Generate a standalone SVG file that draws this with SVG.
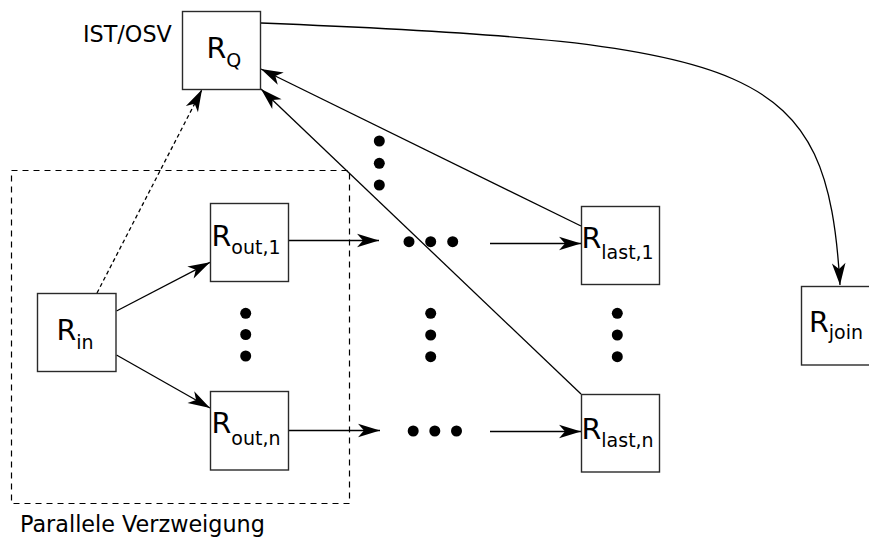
<svg xmlns="http://www.w3.org/2000/svg" width="869" height="540" viewBox="0 0 869 540">
<defs>
<style>
.box{fill:#fff;stroke:#2a2a2a;stroke-width:1.4}
.ln{fill:none;stroke:#000;stroke-width:1.3}
.dash{stroke-dasharray:4,3}
.frame{fill:none;stroke:#000;stroke-width:1.2;stroke-dasharray:6,5}
.t{font-family:"DejaVu Sans","Liberation Sans",sans-serif;fill:#000}
.big{font-size:28.5px}
.sub{font-size:19px}
.lbl{font-size:22.3px}
.dot{fill:#000}
</style>
<marker id="arr" viewBox="-24 -8 26 16" markerWidth="26" markerHeight="16" refX="0" refY="0" orient="auto" markerUnits="userSpaceOnUse">
<path d="M0,0 L-22,-6.8 L-16,0 L-22,6.8 Z" fill="#000"/>
</marker>
</defs>
<rect class="frame" x="11.5" y="170.5" width="338" height="333"/>
<g id="connectors">
<line class="ln" x1="116.5" y1="311" x2="210" y2="262.3" marker-end="url(#arr)"/>
<line class="ln" x1="116.5" y1="355" x2="210" y2="408" marker-end="url(#arr)"/>
<line class="ln dash" x1="97" y1="293" x2="202" y2="89.5" marker-end="url(#arr)"/>
<line class="ln" x1="289" y1="240.5" x2="379" y2="240.5" marker-end="url(#arr)"/>
<line class="ln" x1="490" y1="243.5" x2="581" y2="243.5" marker-end="url(#arr)"/>
<line class="ln" x1="289" y1="430.5" x2="380" y2="430.5" marker-end="url(#arr)"/>
<line class="ln" x1="490" y1="431.5" x2="581" y2="431.5" marker-end="url(#arr)"/>
<line class="ln" x1="581" y1="226" x2="261" y2="69" marker-end="url(#arr)"/>
<line class="ln" x1="581" y1="394" x2="261" y2="89" marker-end="url(#arr)"/>
<path class="ln" d="M261,23 C761,43 827,65 840,285" marker-end="url(#arr)"/>
</g>
<g id="dots">
<circle class="dot" cx="379.3" cy="141" r="5.5"/>
<circle class="dot" cx="379.3" cy="163.3" r="5.5"/>
<circle class="dot" cx="379.3" cy="185" r="5.5"/>
<circle class="dot" cx="409" cy="241.7" r="5.5"/>
<circle class="dot" cx="430.7" cy="241.7" r="5.5"/>
<circle class="dot" cx="452.7" cy="241.7" r="5.5"/>
<circle class="dot" cx="245.7" cy="313.3" r="5.5"/>
<circle class="dot" cx="245.7" cy="334.5" r="5.5"/>
<circle class="dot" cx="245.7" cy="356" r="5.5"/>
<circle class="dot" cx="430.7" cy="313.3" r="5.5"/>
<circle class="dot" cx="430.7" cy="335" r="5.5"/>
<circle class="dot" cx="430.7" cy="356.7" r="5.5"/>
<circle class="dot" cx="617.3" cy="313.3" r="5.5"/>
<circle class="dot" cx="617.3" cy="335" r="5.5"/>
<circle class="dot" cx="617.3" cy="356.7" r="5.5"/>
<circle class="dot" cx="413.2" cy="431" r="5.5"/>
<circle class="dot" cx="434.8" cy="431" r="5.5"/>
<circle class="dot" cx="456.5" cy="431" r="5.5"/>
</g>
<g id="RQ">
<rect class="box" x="182.5" y="11.5" width="78" height="78"/>
<text class="t big" x="206.5" y="57.7">R<tspan class="sub" dy="9.3">Q</tspan></text>
</g>
<text class="t lbl" x="83" y="42">IST/OSV</text>
<g id="Rin">
<rect class="box" x="37.5" y="293.5" width="78.5" height="78"/>
<text class="t big" x="56.5" y="340">R<tspan class="sub" dy="9">in</tspan></text>
</g>
<g id="Rout1">
<rect class="box" x="210.5" y="203.5" width="78" height="78"/>
<text class="t big" x="211.5" y="246">R<tspan class="sub" dy="8.3">out,1</tspan></text>
</g>
<g id="Routn">
<rect class="box" x="210.5" y="391.5" width="78" height="78.5"/>
<text class="t big" x="211.5" y="433">R<tspan class="sub" dy="12">out,n</tspan></text>
</g>
<g id="Rlast1">
<rect class="box" x="581.5" y="206.5" width="78" height="78"/>
<text class="t big" x="581.5" y="248">R<tspan class="sub" dy="11">last,1</tspan></text>
</g>
<g id="Rlastn">
<rect class="box" x="581.5" y="394.5" width="78" height="77.5"/>
<text class="t big" x="581.5" y="439">R<tspan class="sub" dy="8">last,n</tspan></text>
</g>
<g id="Rjoin">
<rect class="box" x="801.5" y="286.5" width="78" height="78.5"/>
<text class="t big" x="809" y="332">R<tspan class="sub" dy="7">join</tspan></text>
</g>
<text class="t lbl" x="20" y="532">Parallele Verzweigung</text>
</svg>
